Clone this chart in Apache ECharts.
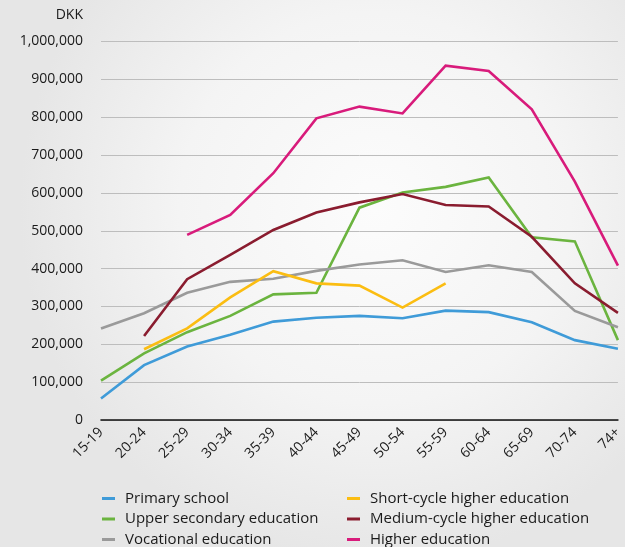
<!DOCTYPE html>
<html><head><meta charset="utf-8">
<script src="https://cdn.jsdelivr.net/npm/echarts@6/dist/echarts.min.js"></script>
<style>html,body{margin:0;padding:0;background:#f1f1f1}#c{width:625px;height:547px}</style>
</head><body><div id="c"></div>
<script>
const categories = ['15-19','20-24','25-29','30-34','35-39','40-44','45-49','50-54','55-59','60-64','65-69','70-74','74+'];
const primarySchool = [57000,145000,194000,225000,260000,270000,275000,269000,289000,285000,258000,211000,188000];
const upperSecondary = [104000,176000,232000,275000,332000,336000,561000,601000,616000,641000,483000,472000,211000];
const vocational = [242000,282000,336000,365000,373000,394000,411000,422000,391000,409000,391000,288000,245000];
const shortCycle = [null,187000,242000,324000,393000,361000,355000,297000,361000,null,null,null,null];
const mediumCycle = [null,222000,372000,436000,502000,548000,575000,597000,568000,564000,484000,361000,283000];
const higherEducation = [null,null,489000,542000,652000,797000,828000,810000,936000,922000,821000,630000,408000];
const yTicks = {min:0, max:1000000, interval:100000};

const chart = echarts.init(document.getElementById('c'), null, {renderer:'canvas'});
const font = '"Open Sans", "Noto Sans", sans-serif';
function s(name, data, color){
  return {name, type:'line', data, symbol:'none', connectNulls:false,
    lineStyle:{color, width:2.6, join:'miter'}, itemStyle:{color}};
}
const legendText = {fontSize:15, lineHeight:15, color:'#1a1a1a', fontFamily:font, padding:[0,0,0,5]};
chart.setOption({
  backgroundColor:{type:'radial', x:0.6, y:0.38, r:0.65,
    colorStops:[{offset:0,color:'#fcfcfc'},{offset:0.55,color:'#f4f4f4'},{offset:1,color:'#e6e6e6'}]},
  textStyle:{fontFamily:font},
  animation:false,
  grid:{left:101, right:6, top:41.5, bottom:127, containLabel:false},
  title:{text:'DKK', right:542, top:8, padding:0, textStyle:{fontFamily:font, fontSize:14, fontWeight:'normal', color:'#1a1a1a'}},
  xAxis:{type:'category', data:categories, boundaryGap:false,
    axisLine:{lineStyle:{color:'#111', width:1.6}}, axisTick:{show:false},
    axisLabel:{rotate:45, color:'#1a1a1a', fontSize:14, fontFamily:font, margin:10, interval:0}},
  yAxis:{type:'value', min:yTicks.min, max:yTicks.max, interval:yTicks.interval,
    axisLine:{show:false}, axisTick:{show:false},
    splitLine:{lineStyle:{color:'#bdbdbd', width:1}},
    axisLabel:{color:'#1a1a1a', fontSize:14, fontFamily:font, margin:18,
      formatter:v=>v.toLocaleString('en-US')}},
  legend:[
    {orient:'vertical', left:102, top:491, height:90, itemGap:5.5, itemWidth:13, itemHeight:3, icon:'rect',
     textStyle:legendText, padding:0,
     data:['Primary school','Upper secondary education','Vocational education']},
    {orient:'vertical', left:347, top:491, height:90, itemGap:5.5, itemWidth:13, itemHeight:3, icon:'rect',
     textStyle:legendText, padding:0,
     data:['Short-cycle higher education','Medium-cycle higher education','Higher education']}
  ],
  series:[
    s('Primary school', primarySchool, '#3f9bd8'),
    s('Upper secondary education', upperSecondary, '#6bb43f'),
    s('Vocational education', vocational, '#9a9a9a'),
    s('Short-cycle higher education', shortCycle, '#fbbd12'),
    s('Medium-cycle higher education', mediumCycle, '#8a1c2f'),
    s('Higher education', higherEducation, '#d81b7b')
  ]
});
</script></body></html>
